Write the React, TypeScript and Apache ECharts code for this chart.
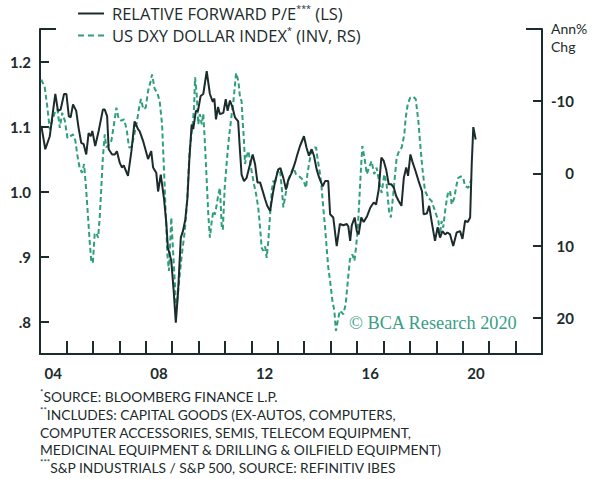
import React, { useEffect, useRef } from "react";
import * as echarts from "echarts";

// Relative forward P/E (left scale), decimal years
const peYears = [
  2004.05, 2004.2, 2004.37, 2004.5, 2004.58, 2004.68, 2004.78, 2004.91, 2005.0, 2005.09,
  2005.16, 2005.25, 2005.37, 2005.46, 2005.56, 2005.65, 2005.75, 2005.84, 2005.92, 2005.98,
  2006.09, 2006.22, 2006.38, 2006.45, 2006.54, 2006.6, 2006.73, 2006.83, 2006.91, 2007.02,
  2007.1, 2007.17, 2007.33, 2007.46, 2007.58, 2007.71, 2007.77, 2007.9, 2008.09, 2008.21,
  2008.28, 2008.4, 2008.47, 2008.57, 2008.69, 2008.78, 2008.84, 2008.91, 2008.97, 2009.06,
  2009.14, 2009.22, 2009.33, 2009.41, 2009.5, 2009.58, 2009.65, 2009.74, 2009.8, 2009.9,
  2009.98, 2010.08, 2010.18, 2010.31, 2010.43, 2010.54, 2010.6, 2010.66, 2010.74, 2010.81,
  2010.94, 2011.03, 2011.1, 2011.19, 2011.29, 2011.38, 2011.5, 2011.57, 2011.63, 2011.72,
  2011.82, 2011.95, 2012.05, 2012.14, 2012.23, 2012.33, 2012.39, 2012.52, 2012.6, 2012.71,
  2012.81, 2012.9, 2013.02, 2013.1, 2013.21, 2013.31, 2013.4, 2013.53, 2013.65, 2013.74,
  2013.84, 2013.99, 2014.09, 2014.18, 2014.28, 2014.37, 2014.47, 2014.57, 2014.7, 2014.79,
  2014.91, 2014.98, 2015.1, 2015.23, 2015.35, 2015.48, 2015.61, 2015.67, 2015.74, 2015.8,
  2015.91, 2015.99, 2016.06, 2016.16, 2016.25, 2016.38, 2016.5, 2016.63, 2016.72, 2016.82,
  2016.92, 2017.01, 2017.1, 2017.2, 2017.3, 2017.39, 2017.48, 2017.58, 2017.68, 2017.77,
  2017.86, 2017.93, 2018.02, 2018.11, 2018.21, 2018.33, 2018.46, 2018.52, 2018.64, 2018.73,
  2018.83, 2018.95, 2019.05, 2019.14, 2019.23, 2019.33, 2019.42, 2019.52, 2019.64, 2019.77,
  2019.9, 2019.99, 2020.09, 2020.19, 2020.28, 2020.34, 2020.4, 2020.49,
];
const peValues = [
  1.101, 1.065, 1.085, 1.126, 1.15, 1.124, 1.126, 1.15, 1.15, 1.116,
  1.114, 1.134, 1.124, 1.098, 1.075, 1.073, 1.057, 1.09, 1.085, 1.093,
  1.07, 1.093, 1.126, 1.126, 1.116, 1.065, 1.057, 1.057, 1.062, 1.044,
  1.037, 1.04, 1.024, 1.062, 1.108, 1.096, 1.093, 1.078, 1.05, 1.062,
  1.037, 1.029, 1.0, 1.026, 0.99, 0.952, 0.914, 0.903, 0.893, 0.847,
  0.798, 0.842, 0.929, 0.939, 0.957, 0.99, 1.047, 1.103, 1.096, 1.124,
  1.124, 1.147, 1.15, 1.185, 1.15, 1.138, 1.143, 1.111, 1.13, 1.119,
  1.121, 1.142, 1.124, 1.14, 1.129, 1.114, 1.108, 1.062, 1.026, 1.016,
  1.021, 1.042, 1.057, 1.042, 1.014, 1.014, 1.006, 0.988, 0.978, 0.97,
  0.996, 1.016, 1.034, 1.036, 1.021, 1.003, 1.018, 1.029, 1.044, 1.057,
  1.07, 1.085, 1.067, 1.055, 1.065, 1.055, 1.034, 1.021, 1.008, 1.016,
  1.016, 0.965, 0.96, 0.916, 0.95, 0.948, 0.95, 0.946, 0.924, 0.948,
  0.96, 0.939, 0.934, 0.96, 0.953, 0.962, 0.975, 0.983, 0.98, 1.003,
  1.052, 1.047, 1.034, 1.011, 1.011, 1.006, 0.993, 0.985, 0.978, 1.021,
  1.037, 1.024, 1.057, 1.044, 1.032, 1.016, 1.0, 0.965, 0.966, 0.978,
  0.952, 0.924, 0.945, 0.929, 0.939, 0.934, 0.937, 0.934, 0.916, 0.937,
  0.939, 0.927, 0.955, 0.953, 0.96, 1.042, 1.099, 1.08,
];

// US DXY dollar index, annual % change (right scale, inverted)
const dxyYears = [
  2004.05, 2004.18, 2004.28, 2004.37, 2004.46, 2004.56, 2004.66, 2004.75, 2004.84, 2004.94,
  2005.04, 2005.13, 2005.25, 2005.34, 2005.41, 2005.5, 2005.59, 2005.67, 2005.75, 2005.82,
  2005.88, 2005.94, 2006.0, 2006.07, 2006.13, 2006.2, 2006.26, 2006.32, 2006.38, 2006.45,
  2006.51, 2006.6, 2006.7, 2006.8, 2006.89, 2006.98, 2007.08, 2007.18, 2007.28, 2007.37,
  2007.47, 2007.57, 2007.66, 2007.75, 2007.82, 2007.91, 2008.0, 2008.09, 2008.19, 2008.24,
  2008.34, 2008.44, 2008.53, 2008.62, 2008.7, 2008.76, 2008.82, 2008.88, 2008.97, 2009.03,
  2009.1, 2009.16, 2009.22, 2009.29, 2009.37, 2009.48, 2009.57, 2009.66, 2009.78, 2009.83,
  2009.87, 2009.93, 2009.99, 2010.05, 2010.12, 2010.18, 2010.25, 2010.31, 2010.37, 2010.43,
  2010.5, 2010.56, 2010.62, 2010.69, 2010.75, 2010.81, 2010.88, 2010.92, 2010.99, 2011.07,
  2011.15, 2011.24, 2011.32, 2011.38, 2011.42, 2011.51, 2011.57, 2011.63, 2011.67, 2011.72,
  2011.76, 2011.82, 2011.89, 2011.95, 2012.01, 2012.1, 2012.18, 2012.26, 2012.33, 2012.39,
  2012.45, 2012.52, 2012.58, 2012.64, 2012.71, 2012.77, 2012.83, 2012.9, 2012.96, 2013.02,
  2013.09, 2013.15, 2013.21, 2013.27, 2013.34, 2013.4, 2013.48, 2013.59, 2013.69, 2013.78,
  2013.87, 2013.97, 2014.07, 2014.12, 2014.2, 2014.28, 2014.37, 2014.45, 2014.5, 2014.6,
  2014.66, 2014.72, 2014.79, 2014.85, 2014.91, 2014.98, 2015.07, 2015.14, 2015.2, 2015.27,
  2015.35, 2015.48, 2015.57, 2015.65, 2015.73, 2015.82, 2015.9, 2015.96, 2016.03, 2016.09,
  2016.15, 2016.2, 2016.28, 2016.37, 2016.45, 2016.55, 2016.65, 2016.74, 2016.83, 2016.93,
  2017.03, 2017.12, 2017.21, 2017.28, 2017.37, 2017.44, 2017.5, 2017.59, 2017.69, 2017.79,
  2017.84, 2017.92, 2018.01, 2018.13, 2018.22, 2018.32, 2018.38, 2018.47, 2018.57, 2018.7,
  2018.82, 2018.95, 2019.08, 2019.14, 2019.2, 2019.26, 2019.35, 2019.43, 2019.52, 2019.58,
  2019.68, 2019.77, 2019.83, 2019.93, 2020.02, 2020.08, 2020.21, 2020.33,
];
const dxyValues = [
  -13.0, -11.9, -9.1, -6.1, -7.3, -8.4, -8.9, -6.3, -8.4, -7.3,
  -4.9, -5.1, -5.4, -4.5, -2.6, -0.8, -0.1, -1.3, 2.4, 6.1,
  9.4, 12.1, 12.4, 8.4, 8.2, 8.9, 6.1, 2.0, -2.2, -5.4,
  -3.6, -4.0, -4.5, -6.8, -9.1, -7.5, -7.3, -7.5, -6.1, -3.6,
  -3.7, -5.4, -7.0, -9.1, -10.3, -8.9, -9.1, -11.4, -12.8, -13.7,
  -11.7, -11.2, -10.0, -6.8, 0.1, 5.7, 11.2, 13.5, 6.1, 10.3,
  14.9, 18.6, 16.7, 14.0, 11.2, 8.0, 3.8, -3.1, -6.8, -9.1,
  -13.3, -11.0, -6.8, -8.2, -6.8, -8.3, -3.6, 1.0, 5.7, 8.9,
  6.6, 5.2, 5.7, 4.3, 2.9, 2.0, 7.5, 7.8, 2.0, -1.7,
  -4.9, -7.7, -10.0, -12.3, -13.9, -12.8, -10.5, -10.0, -7.3, -4.5,
  -1.3, -2.4, -3.1, -1.7, -0.3, 1.5, 2.9, 4.7, 7.5, 10.3,
  10.7, 10.1, 11.7, 9.4, 5.7, 2.4, 1.0, 1.5, 0.1, -0.6,
  -0.2, 2.0, 4.7, 3.4, 2.0, 1.0, 0.1, -0.8, 0.1, 0.3,
  0.6, 1.0, 2.0, 0.1, -1.7, -3.1, -3.6, -3.6, -2.2, 0.1,
  2.0, 4.7, 7.5, 10.3, 13.0, 14.9, 17.7, 19.0, 21.8, 20.4,
  19.0, 19.5, 18.1, 14.9, 11.9, 11.2, 12.1, 10.3, 7.5, 3.4,
  -0.8, -3.8, -2.2, 0.1, -0.8, -1.7, 0.1, -0.8, 1.0, 2.7,
  0.1, 1.5, 5.2, 6.1, 2.9, 0.1, -2.2, -3.1, -3.6, -5.4,
  -7.7, -9.6, -10.5, -10.6, -10.3, -7.3, -4.5, -0.8, 2.4, 3.4,
  3.8, 5.2, 6.6, 8.4, 6.6, 7.5, 4.7, 2.9, 2.4, 4.3,
  3.4, 1.5, 0.6, 0.4, 0.6, 1.7, 2.0, 0.8,
];

const xTickYears = [2005, 2006, 2007, 2008, 2009, 2010, 2011, 2012, 2013, 2014, 2015, 2016, 2017, 2018, 2019, 2020, 2021, 2022];
const xLabelYears = [2004.5, 2008.5, 2012.5, 2016.5, 2020.5];
const leftTicks = [0.8, 0.9, 1.0, 1.1, 1.2];
const rightTicks = [-10, 0, 10, 20];

const seriesNames = ["RELATIVE FORWARD P/E*** (LS)", "US DXY DOLLAR INDEX* (INV, RS)"];
const footnoteLines = [
  "{s|*}SOURCE: BLOOMBERG FINANCE L.P.",
  "{s|**}INCLUDES: CAPITAL GOODS (EX-AUTOS, COMPUTERS,",
  "COMPUTER ACCESSORIES, SEMIS, TELECOM EQUIPMENT,",
  "MEDICINAL EQUIPMENT & DRILLING & OILFIELD EQUIPMENT)",
  "{s|***}S&P INDUSTRIALS / S&P 500, SOURCE: REFINITIV IBES",
];

const DARK = "#1c2b2c";
const GREEN = "#2f9e7c";
const FONT = "Lato, 'Open Sans', sans-serif";
const LEGEND_FONT = "'Open Sans', Lato, sans-serif";

export default function App() {
  const ref = useRef<HTMLDivElement>(null);
  useEffect(() => {
    if (!ref.current) return;
    const chart = echarts.init(ref.current, null, { renderer: "svg" });
    const pe = peYears.map((y, i) => [y, peValues[i]]);
    const dxy = dxyYears.map((y, i) => [y, dxyValues[i]]);
    chart.setOption({
      animation: false,
      backgroundColor: "#ffffff",
      textStyle: { fontFamily: FONT },
      grid: { left: 40, right: 58, top: 29, bottom: 125, containLabel: false },
      legend: {
        orient: "vertical",
        left: 78,
        top: 4,
        padding: 0,
        itemWidth: 26,
        itemHeight: 2,
        itemGap: 3,
        selectedMode: false,
        data: [
          { name: seriesNames[0], icon: "path://M0,0h26v2h-26z", itemStyle: { color: DARK } },
          {
            name: seriesNames[1],
            icon: "path://M0,0h6v2h-6z M10,0h6v2h-6z M20,0h6v2h-6z",
            itemStyle: { color: GREEN },
          },
        ],
        formatter: (name: string) => name.replace(/(\*+)/, "{s|$1}"),
        textStyle: {
          fontFamily: LEGEND_FONT,
          fontSize: 16.5,
          color: DARK,
          lineHeight: 19,
          padding: [0, 0, 0, 3],
          rich: { s: { fontSize: 9, fontFamily: LEGEND_FONT, color: DARK, verticalAlign: "top", lineHeight: 19 } },
        },
      },
      xAxis: {
        type: "value",
        min: 2004,
        max: 2023,
        splitLine: { show: false },
        axisLine: { show: true, onZero: false, lineStyle: { color: DARK, width: 2 } },
        axisTick: { show: true, inside: true, length: 13, customValues: xTickYears, lineStyle: { color: DARK, width: 2 } },
        axisLabel: {
          customValues: xLabelYears,
          formatter: (v: number) => String(Math.floor(v) % 100).padStart(2, "0"),
          color: DARK,
          fontSize: 15,
          fontWeight: "bold",
          fontFamily: FONT,
          margin: 11,
        },
      },
      yAxis: [
        {
          type: "value",
          min: 0.75,
          max: 1.25,
          position: "left",
          splitLine: { show: false },
          axisLine: { show: true, onZero: false, lineStyle: { color: DARK, width: 2 } },
          axisTick: { show: true, inside: true, length: 9, customValues: leftTicks, lineStyle: { color: DARK, width: 2 } },
          axisLabel: {
            customValues: leftTicks,
            formatter: (v: number) => (v >= 1 ? v.toFixed(1) : v.toFixed(1).replace(/^0/, "")),
            color: DARK,
            fontSize: 15,
            fontWeight: "bold",
            fontFamily: FONT,
            margin: 9,
          },
        },
        {
          type: "value",
          min: -20,
          max: 25,
          inverse: true,
          position: "right",
          splitLine: { show: false },
          axisLine: { show: true, onZero: false, lineStyle: { color: DARK, width: 2 } },
          axisTick: { show: true, inside: true, length: 9, customValues: rightTicks, lineStyle: { color: DARK, width: 2 } },
          axisLabel: {
            customValues: rightTicks,
            align: "right",
            margin: 32,
            color: DARK,
            fontSize: 15,
            fontWeight: "bold",
            fontFamily: FONT,
          },
        },
      ],
      series: [
        {
          name: seriesNames[1],
          type: "line",
          yAxisIndex: 1,
          data: dxy,
          symbol: "none",
          z: 2,
          itemStyle: { color: GREEN },
          lineStyle: { color: GREEN, width: 2, type: [5, 3] },
        },
        {
          name: seriesNames[0],
          type: "line",
          yAxisIndex: 0,
          data: pe,
          symbol: "none",
          z: 3,
          itemStyle: { color: DARK },
          lineStyle: { color: DARK, width: 2 },
        },
      ],
      graphic: [
        { type: "line", shape: { x1: 40, y1: 29, x2: 56, y2: 29 }, style: { stroke: DARK, lineWidth: 2 } },
        { type: "line", shape: { x1: 526, y1: 29, x2: 542, y2: 29 }, style: { stroke: DARK, lineWidth: 2 } },
        {
          type: "text",
          left: 551,
          top: 19,
          style: { text: "Ann%\nChg", fill: DARK, fontSize: 14, fontFamily: FONT, lineHeight: 18 },
        },
        {
          type: "text",
          left: 349,
          top: 314,
          style: {
            text: "© BCA Research 2020",
            fill: "#3a9e84",
            fontSize: 18.3,
            fontFamily: "'Liberation Serif', 'DejaVu Serif', serif",
          },
        },
        {
          type: "text",
          left: 40,
          top: 388,
          style: {
            text: footnoteLines.join("\n"),
            fill: DARK,
            fontSize: 13.8,
            fontFamily: FONT,
            lineHeight: 17.6,
            rich: { s: { fontSize: 8, fontFamily: FONT, fill: DARK, verticalAlign: "top", lineHeight: 17.6 } },
          },
        },
      ],
    });
    return () => chart.dispose();
  }, []);
  return (
    <div
      ref={ref}
      style={{ position: "fixed", left: 0, top: 0, width: 600, height: 479, background: "#fff" }}
    />
  );
}
